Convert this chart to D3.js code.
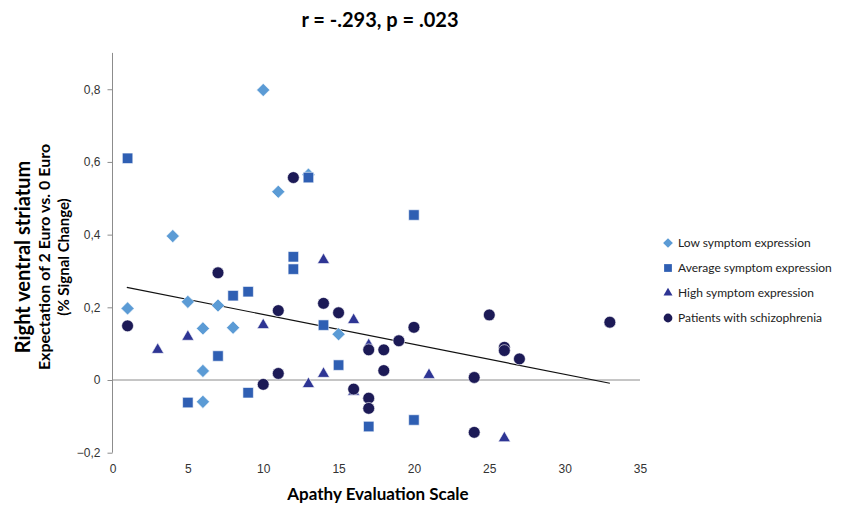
<!DOCTYPE html>
<html>
<head>
<meta charset="utf-8">
<script src="https://cdn.jsdelivr.net/npm/d3@7"></script>
<style>
  body { margin: 0; background: #fff; }
  svg { font-family: Lato, "Open Sans", sans-serif; }
</style>
</head>
<body>
<div id="chart"></div>
<script>
// values (Apathy Evaluation Scale, % signal change)
var lowSymptom = [
  [10, 0.798], [13, 0.565], [11, 0.518], [4, 0.396], [1, 0.197], [5, 0.215],
  [7, 0.205], [6, 0.142], [8, 0.144], [15, 0.126], [6, 0.025], [6, -0.06]
];
var averageSymptom = [
  [1, 0.61], [13, 0.557], [20, 0.454], [12, 0.339], [12, 0.305], [9, 0.243],
  [8, 0.232], [14, 0.151], [7, 0.066], [15, 0.041], [9, -0.035], [5, -0.062],
  [20, -0.11], [17, -0.128]
];
var highSymptom = [
  [14, 0.33], [16, 0.165], [10, 0.151], [5, 0.119], [17, 0.096], [3, 0.083],
  [21, 0.014], [14, 0.017], [13, -0.011], [16, -0.032], [26, -0.16]
];
var patients = [
  [12, 0.557], [7, 0.295], [14, 0.211], [11, 0.191], [15, 0.185], [25, 0.179],
  [33, 0.159], [1, 0.149], [20, 0.145], [19, 0.108], [26, 0.090], [26, 0.081],
  [17, 0.083], [18, 0.083], [27, 0.058], [18, 0.026], [11, 0.018], [24, 0.007],
  [10, -0.012], [16, -0.025], [17, -0.05], [17, -0.078], [24, -0.144]
];
var trendLine = [[0.95, 0.255], [33, -0.009]];

var xTicks = [0, 5, 10, 15, 20, 25, 30, 35];
var yTicks = [-0.2, 0, 0.2, 0.4, 0.6, 0.8];
var seriesNames = ["Low symptom expression", "Average symptom expression",
                   "High symptom expression", "Patients with schizophrenia"];

var width = 845, height = 505;
var svg = d3.select("#chart").append("svg")
  .attr("width", width)
  .attr("height", height);

var x = d3.scaleLinear().domain([0, 35]).range([112.5, 640]);
var y = d3.scaleLinear().domain([-0.2, 0.9]).range([452.7, 52.9]);

var axisColor = "#8c8c8c";

// y axis
var yAxis = svg.append("g")
  .attr("transform", "translate(" + x(0) + ",0)")
  .call(d3.axisLeft(y).tickValues(yTicks).tickSize(5).tickPadding(7)
    .tickFormat(function(d) { return d === 0 ? "0" : d3.format(".1f")(d).replace(".", ","); }));
yAxis.select(".domain").remove();
yAxis.selectAll(".tick line").attr("stroke", axisColor);
yAxis.selectAll(".tick text").attr("fill", "#333").style("font-size", "12px");
svg.append("line")
  .attr("x1", x(0)).attr("x2", x(0))
  .attr("y1", y(0.9)).attr("y2", y(-0.2))
  .attr("stroke", axisColor);

// x axis line sits on zero, labels under the plot
svg.append("line")
  .attr("x1", x(0)).attr("x2", x(35))
  .attr("y1", y(0)).attr("y2", y(0))
  .attr("stroke", axisColor);
var xAxis = svg.append("g")
  .attr("transform", "translate(0," + y(-0.2) + ")")
  .call(d3.axisBottom(x).tickValues(xTicks).tickSize(0).tickPadding(12));
xAxis.select(".domain").remove();
xAxis.selectAll(".tick text").attr("fill", "#333").style("font-size", "12px");

// trend line
svg.append("path")
  .datum(trendLine)
  .attr("fill", "none")
  .attr("stroke", "#111")
  .attr("stroke-width", 1.2)
  .attr("d", d3.line().x(function(d) { return x(d[0]); }).y(function(d) { return y(d[1]); }));

var series = [
  {name: seriesNames[0], data: lowSymptom, shape: d3.symbolDiamond2, color: "#5B9BD5", size: 110},
  {name: seriesNames[1], data: averageSymptom, shape: d3.symbolSquare2, color: "#2F5FB3", size: 140},
  {name: seriesNames[2], data: highSymptom, shape: d3.symbolTriangle2, color: "#2E3594", size: 105},
  {name: seriesNames[3], data: patients, shape: d3.symbolCircle, color: "#1C1A56", size: 110}
];

series.forEach(function(s) {
  var sym = d3.symbol().type(s.shape).size(s.size);
  svg.append("g").selectAll("path")
    .data(s.data)
    .enter().append("path")
    .attr("transform", function(d) { return "translate(" + x(d[0]) + "," + y(d[1]) + ")"; })
    .attr("d", sym)
    .attr("fill", s.color)
    .attr("stroke", "#fff")
    .attr("stroke-width", 0.6);
});

// legend
var legend = svg.append("g").attr("transform", "translate(668,243)");
series.forEach(function(s, i) {
  var row = legend.append("g").attr("transform", "translate(0," + (i * 25) + ")");
  row.append("path")
    .attr("d", d3.symbol().type(s.shape).size(s.size * 0.55))
    .attr("fill", s.color);
  row.append("text")
    .attr("x", 10)
    .attr("dy", "0.35em")
    .attr("fill", "#222")
    .style("font-size", "12px")
    .text(s.name);
});

// titles
svg.append("text")
  .attr("x", 380).attr("y", 27)
  .attr("text-anchor", "middle")
  .style("font-size", "20px").style("font-weight", "bold")
  .text("r = -.293, p = .023");

svg.append("text")
  .attr("x", 378).attr("y", 500)
  .attr("text-anchor", "middle")
  .style("font-size", "17px").style("font-weight", "bold")
  .text("Apathy Evaluation Scale");

var yTitle = svg.append("g").attr("transform", "translate(0,257) rotate(-90)");
yTitle.append("text")
  .attr("x", 0).attr("y", 30)
  .attr("text-anchor", "middle")
  .style("font-size", "20px").style("font-weight", "bold")
  .text("Right ventral striatum");
yTitle.append("text")
  .attr("x", 0).attr("y", 50)
  .attr("text-anchor", "middle")
  .style("font-size", "16px").style("font-weight", "bold")
  .text("Expectation of 2 Euro vs. 0 Euro");
yTitle.append("text")
  .attr("x", 0).attr("y", 69)
  .attr("text-anchor", "middle")
  .style("font-size", "15px").style("font-weight", "bold")
  .text("(% Signal Change)");
</script>
</body>
</html>
